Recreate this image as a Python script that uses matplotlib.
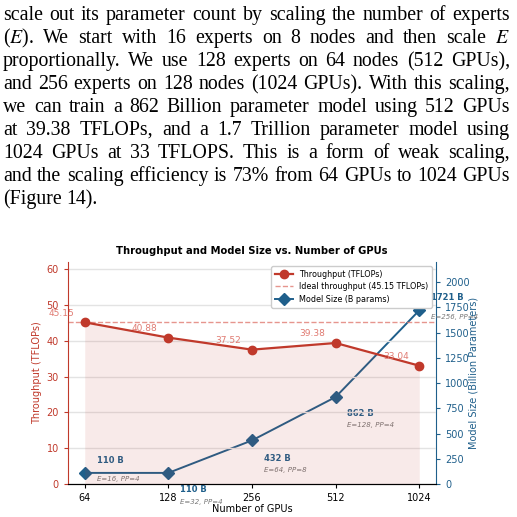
import matplotlib
matplotlib.use("Agg")
import matplotlib.pyplot as plt
import numpy as np

# ---- data ----
gpus = ["64", "128", "256", "512", "1024"]
throughput = [45.15, 40.88, 37.52, 39.38, 33.04]
ideal = 45.15
model_size = [110, 110, 432, 862, 1721]
config_labels = ["E=16, PP=4", "E=32, PP=4", "E=64, PP=8", "E=128, PP=4", "E=256, PP=4"]

paragraph = [
    "scale out its parameter count by scaling the number of experts",
    "($E$). We start with 16 experts on 8 nodes and then scale $E$",
    "proportionally. We use 128 experts on 64 nodes (512 GPUs),",
    "and 256 experts on 128 nodes (1024 GPUs). With this scaling,",
    "we can train a 862 Billion parameter model using 512 GPUs",
    "at 39.38 TFLOPs, and a 1.7 Trillion parameter model using",
    "1024 GPUs at 33 TFLOPS. This is a form of weak scaling,",
    "and the scaling efficiency is 73% from 64 GPUs to 1024 GPUs",
    "(Figure 14).",
]

RED = "#c0392b"
LRED = "#e07b72"
BLUE = "#1f5f8b"

plt.rcParams["mathtext.fontset"] = "stix"

W = H = 517
fig = plt.figure(figsize=(W / 100, H / 100), dpi=100)
fig.patch.set_facecolor("white")

# ---- justified paragraph ----
FS = 14.3
renderer = fig.canvas.get_renderer()
x_left, x_right = 3, 510
for i, line in enumerate(paragraph):
    words = line.split(" ")
    base_y = 1 - (20 + 23 * i) / H
    texts = []
    widths = []
    for w in words:
        t = fig.text(0, base_y, w, fontsize=FS, family="Liberation Serif",
                     va="baseline", ha="left")
        texts.append(t)
        widths.append(t.get_window_extent(renderer).width)
    if i < len(paragraph) - 1 and len(words) > 1:
        gap = (x_right - x_left - sum(widths)) / (len(words) - 1)
    else:
        sp = fig.text(0, 0, "a a", fontsize=FS, family="Liberation Serif")
        sa = fig.text(0, 0, "aa", fontsize=FS, family="Liberation Serif")
        gap = sp.get_window_extent(renderer).width - sa.get_window_extent(renderer).width
        sp.remove(); sa.remove()
    x = x_left
    for t, wd in zip(texts, widths):
        t.set_x(x / W)
        x += wd + gap

# ---- chart ----
ax = fig.add_axes([68 / W, (H - 484) / H, 368 / W, 222 / H])
x = np.arange(len(gpus))

ax.fill_between(x, 0, throughput, color=RED, alpha=0.1, linewidth=0)
ax.axhline(ideal, color=LRED, linestyle="--", linewidth=1.0, alpha=0.8,
           label=f"Ideal throughput ({ideal} TFLOPs)")
l1, = ax.plot(x, throughput, color=RED, marker="o", markersize=6, linewidth=1.6,
              label="Throughput (TFLOPs)", zorder=3)
for xi, v in zip(x, throughput):
    ax.annotate(f"{v:.2f}", (xi, v), xytext=(-17, 6.5), textcoords="offset points",
                ha="center", va="center", fontsize=6.5, color=LRED,
                annotation_clip=False)

ax.set_xlim(-0.2, 4.2)
ax.set_ylim(0, 62)
ax.set_xticks(x)
ax.set_xticklabels(gpus)
ax.set_yticks([0, 10, 20, 30, 40, 50, 60])
ax.grid(axis="y", color="#e3e3e3", linewidth=1.0)
ax.set_axisbelow(True)
ax.tick_params(axis="y", colors=RED, labelsize=7, length=3)
ax.tick_params(axis="x", labelsize=7, length=3)
ax.set_ylabel("Throughput (TFLOPs)", color=RED, fontsize=7, labelpad=3)
ax.set_xlabel("Number of GPUs", fontsize=7, labelpad=1)
ax.spines["left"].set_color(RED)
ax.spines["top"].set_visible(False)
ax.spines["right"].set_visible(False)
ax.set_title("Throughput and Model Size vs. Number of GPUs", fontsize=7.2,
             fontweight="bold", pad=6)

ax2 = ax.twinx()
l3, = ax2.plot(x, model_size, color=BLUE, marker="D", markersize=6, linewidth=1.4,
               label="Model Size (B params)", zorder=3)
ax2.set_ylim(0, 2200)
ax2.set_yticks([0, 250, 500, 750, 1000, 1250, 1500, 1750, 2000])
ax2.tick_params(axis="y", colors=BLUE, labelsize=7, length=3)
ax2.set_ylabel("Model Size (Billion Parameters)", color=BLUE, fontsize=7, labelpad=-1)
ax2.spines["right"].set_color(BLUE)
ax2.spines["left"].set_visible(False)
ax2.spines["top"].set_visible(False)

# label offsets in points: (label dy, config dy)
offs = [(9, -4.5), (-12, -21), (-13, -21), (-12, -20.5), (9, -5)]
for xi, v, cfg, (d1, d2) in zip(x, model_size, config_labels, offs):
    ax2.annotate(f"{v} B", (xi, v), xytext=(8.5, d1), textcoords="offset points",
                 ha="left", va="center", fontsize=6, fontweight="bold", color=BLUE,
                 annotation_clip=False)
    ax2.annotate(cfg, (xi, v), xytext=(8.5, d2), textcoords="offset points",
                 ha="left", va="center", fontsize=5, fontstyle="italic", color="#777777",
                 annotation_clip=False)

handles = [l1, ax.lines[0], l3]
leg = ax.legend(handles, [h.get_label() for h in handles], loc="upper right",
                fontsize=5.8, framealpha=1.0, borderpad=0.45, handlelength=2.2,
                labelspacing=0.45, bbox_to_anchor=(1.0, 1.0))
leg.set_zorder(10)
ax.set_zorder(ax2.get_zorder() + 1)
ax.patch.set_visible(False)

fig.savefig("out.png", dpi=100)
